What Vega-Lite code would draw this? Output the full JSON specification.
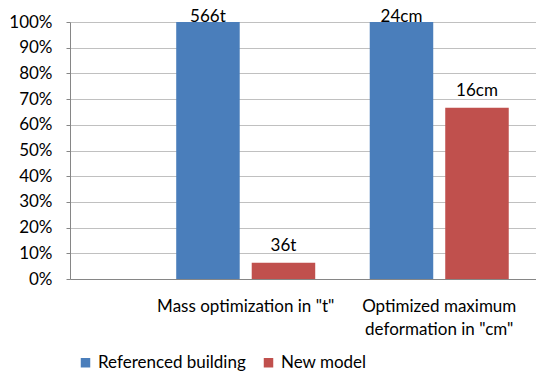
{
  "$schema": "https://vega.github.io/schema/vega-lite/v6.json",
  "width": 466,
  "height": 257,
  "autosize": {"type": "none"},
  "padding": {"left": 70, "top": 22, "right": 0, "bottom": 94},
  "background": "white",
  "config": {
    "view": {"stroke": null},
    "font": "Lato",
    "axis": {"labelFont": "Lato", "labelFontSize": 17, "labelColor": "#000000"}
  },
  "data": {
    "values": [
      {"category": "Mass optimization in \"t\"", "series": "Referenced building", "share": 1.0, "label": "566t"},
      {"category": "Mass optimization in \"t\"", "series": "New model", "share": 0.0636, "label": "36t"},
      {"category": "Optimized maximum deformation in \"cm\"", "series": "Referenced building", "share": 1.0, "label": "24cm"},
      {"category": "Optimized maximum deformation in \"cm\"", "series": "New model", "share": 0.6667, "label": "16cm"}
    ]
  },
  "encoding": {
    "x": {
      "field": "category",
      "type": "nominal",
      "sort": null,
      "title": null,
      "scale": {"paddingInner": 0, "paddingOuter": 0.204, "align": 1},
      "axis": {
        "labelAngle": 0,
        "domainColor": "#868686",
        "ticks": false,
        "labelPadding": 19,
        "labelLimit": 300,
        "labelLineHeight": 23,
        "labelExpr": "datum.label == 'Optimized maximum deformation in \"cm\"' ? ['Optimized maximum', 'deformation in \"cm\"'] : datum.label"
      }
    },
    "xOffset": {
      "field": "series",
      "type": "nominal",
      "sort": ["Referenced building", "New model"],
      "scale": {"paddingInner": 0.159, "paddingOuter": 0.361}
    },
    "y": {
      "field": "share",
      "type": "quantitative",
      "title": null,
      "scale": {"domain": [0, 1], "nice": false},
      "axis": {
        "format": "%",
        "values": [0, 0.1, 0.2, 0.3, 0.4, 0.5, 0.6, 0.7, 0.8, 0.9, 1],
        "labelOverlap": false,
        "domainColor": "#868686",
        "tickColor": "#868686",
        "tickSize": 4,
        "labelPadding": 14,
        "gridColor": "#c0c0c0",
        "gridWidth": 1
      }
    }
  },
  "layer": [
    {
      "mark": {"type": "bar"},
      "encoding": {
        "color": {
          "field": "series",
          "type": "nominal",
          "sort": ["Referenced building", "New model"],
          "scale": {"domain": ["Referenced building", "New model"], "range": ["#4a7ebb", "#c0504d"]},
          "legend": {
            "title": null,
            "orient": "none",
            "direction": "horizontal",
            "legendX": 7,
            "legendY": 332,
            "symbolType": "square",
            "symbolSize": 90,
            "symbolStrokeWidth": 0,
            "labelFont": "Lato",
            "labelFontSize": 17,
            "labelColor": "#000000",
            "labelLimit": 300,
            "columnPadding": 14
          }
        }
      }
    },
    {
      "transform": [{"filter": "datum.series == 'Referenced building'"}],
      "mark": {"type": "text", "baseline": "alphabetic", "dy": 0, "fontSize": 17, "font": "Lato", "color": "#000000"},
      "encoding": {"text": {"field": "label"}}
    },
    {
      "transform": [{"filter": "datum.series == 'New model'"}],
      "mark": {"type": "text", "baseline": "alphabetic", "dy": -12, "fontSize": 17, "font": "Lato", "color": "#000000"},
      "encoding": {"text": {"field": "label"}}
    }
  ]
}
